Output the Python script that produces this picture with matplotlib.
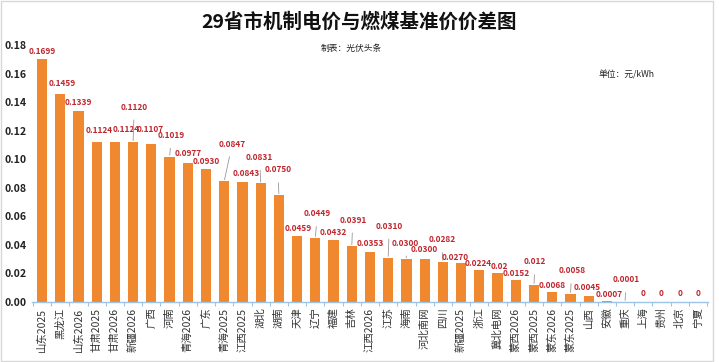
import matplotlib.pyplot as plt
from matplotlib.patches import Rectangle

plt.rcParams['font.family'] = ['Noto Sans CJK SC', 'DejaVu Sans']

# === Data ===
regions = ['山东2025', '黑龙江', '山东2026', '甘肃2025', '甘肃2026', '新疆2026', '广西', '河南',
           '青海2026', '广东', '青海2025', '江西2025', '湖北', '湖南', '天津', '辽宁', '福建', '吉林',
           '江西2026', '江苏', '海南', '河北南网', '四川', '新疆2025', '浙江', '冀北电网', '蒙西2026',
           '蒙西2025', '蒙东2026', '蒙东2025', '山西', '安徽', '重庆', '上海', '贵州', '北京', '宁夏']
diff = [0.1699, 0.1459, 0.1339, 0.1124, 0.1124, 0.1120, 0.1107, 0.1019, 0.0977, 0.0930,
        0.0847, 0.0843, 0.0831, 0.0750, 0.0459, 0.0449, 0.0432, 0.0391, 0.0353, 0.0310,
        0.0300, 0.0300, 0.0282, 0.0270, 0.0224, 0.02, 0.0152, 0.012, 0.0068, 0.0058,
        0.0045, 0.0007, 0.0001, 0, 0, 0, 0]
label_txt = ['0.1699', '0.1459', '0.1339', '0.1124', '0.1124', '0.1120', '0.1107', '0.1019',
             '0.0977', '0.0930', '0.0847', '0.0843', '0.0831', '0.0750', '0.0459', '0.0449',
             '0.0432', '0.0391', '0.0353', '0.0310', '0.0300', '0.0300', '0.0282', '0.0270',
             '0.0224', '0.02', '0.0152', '0.012', '0.0068', '0.0058', '0.0045', '0.0007',
             '0.0001', '0', '0', '0', '0']

# label offsets (pixels) from bar top, as placed in the original
offsets = [(0, 8), (2, 10), (0, 8.5), (2.5, 11), (11, 12), (1, 35), (-1, 14), (2, 21),
           (0, 9), (0, 8), (8, 37), (4, 8), (-1, 26), (-1, 25), (1, 8), (2, 24), (0, 8),
           (1, 26), (0, 8.5), (1, 31.5), (-1, 16), (0, 10), (-1, 22), (-6, 6), (-1.5, 7),
           (2, 7), (0, 7), (1, 23), (0, 7), (1.5, 23), (-1.5, 7.6), (2, 7), (1, 22),
           (0, 8), (0, 8), (0, 8), (0, 8)]

fig = plt.figure(figsize=(7.19, 3.62), dpi=100)
ax = fig.add_axes([32 / 719, 1 - 302 / 362, 676 / 719, 257 / 362])

x = list(range(len(regions)))
ax.bar(x, diff, width=0.56, color='#F0882F', zorder=2)

for i, (v, t) in enumerate(zip(diff, label_txt)):
    dx, dy = offsets[i]
    if dy > 15:
        ax.annotate(t, xy=(i, v), xytext=(dx, dy), textcoords='offset pixels',
                    ha='center', va='center', fontsize=6, fontweight='bold', color='#C0262D',
                    arrowprops=dict(arrowstyle='-', color='#999999', lw=0.6, shrinkA=4, shrinkB=1),
                    zorder=3)
    else:
        ax.annotate(t, xy=(i, v), xytext=(dx, dy), textcoords='offset pixels',
                    ha='center', va='center', fontsize=6, fontweight='bold', color='#C0262D',
                    zorder=3)

ax.set_xlim(-0.55, len(regions) - 0.45)
ax.set_ylim(0, 0.18)
ax.set_yticks([i * 0.02 for i in range(10)])
ax.set_yticklabels([f'{i * 0.02:.2f}' for i in range(10)], fontsize=7.6, fontweight='bold', color='#222222')
ax.tick_params(axis='y', length=0, pad=4)

ax.set_xticks(x)
ax.set_xticklabels(regions, rotation=90, fontsize=7.5, color='#333333')
ax.tick_params(axis='x', length=0, pad=4)
ax.set_xticks([i + 0.5 for i in range(-1, len(regions))], minor=True)
ax.tick_params(axis='x', which='minor', length=3, color='#9DC3E6', width=0.8)

for s in ['top', 'right', 'left']:
    ax.spines[s].set_visible(False)
ax.spines['bottom'].set_color('#9DC3E6')
ax.spines['bottom'].set_linewidth(1.0)

fig.text(0.5, 0.938, '29省市机制电价与燃煤基准价价差图', ha='center', va='center',
         fontsize=14, fontweight='bold', color='#111111')
fig.text(0.488, 0.867, '制表：光伏头条', ha='center', va='center', fontsize=6.3, color='#222222')
fig.text(0.872, 0.793, '单位：元/kWh', ha='center', va='center', fontsize=6.3, color='#222222')

fig.patches.append(Rectangle((0.001, 0.003), 0.99, 0.993, transform=fig.transFigure,
                             fill=False, edgecolor='#d8d8d8', lw=1))

fig.savefig('out.png', dpi=100)
